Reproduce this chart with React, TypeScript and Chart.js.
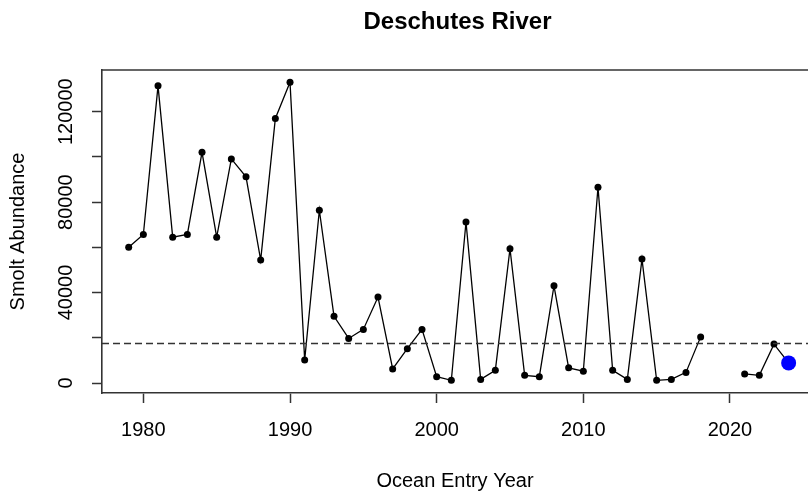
import React, { useEffect, useRef } from "react";
import { Chart, registerables } from "chart.js";

Chart.register(...registerables);

const TITLE = "Deschutes River";
const X_TITLE = "Ocean Entry Year";
const Y_TITLE = "Smolt Abundance";

const YEARS = [
  1979, 1980, 1981, 1982, 1983, 1984, 1985, 1986, 1987, 1988,
  1989, 1990, 1991, 1992, 1993, 1994, 1995, 1996, 1997, 1998,
  1999, 2000, 2001, 2002, 2003, 2004, 2005, 2006, 2007, 2008,
  2009, 2010, 2011, 2012, 2013, 2014, 2015, 2016, 2017, 2018,
  2019, 2020, 2021, 2022, 2023, 2024,
];

const SMOLTS: (number | null)[] = [
  60000, 65700, 131400, 64500, 65700, 102000, 64500, 99100, 91200, 54400,
  117000, 133000, 10200, 76400, 29500, 19700, 23700, 38000, 6200, 15200,
  23700, 2800, 1200, 71200, 1600, 5600, 59400, 3400, 2800, 43000,
  6700, 5200, 86600, 5600, 1600, 54800, 1200, 1600, 4700, 20400,
  null, null, 4000, 3400, 17200, 8900,
];

const HIGHLIGHT_YEAR = 2024;
const REF_LEVEL = 17500;

const X_TICKS = [1980, 1990, 2000, 2010, 2020];
const Y_TICKS = [0, 20000, 40000, 60000, 80000, 100000, 120000];
const Y_TICK_LABELS = ["0", "", "40000", "", "80000", "", "120000"];

const X_MIN = 1977.18;
const X_MAX = 2025.32;
const Y_MIN = -4420;
const Y_MAX = 138420;

const FONT = "'Liberation Sans', Arial, Helvetica, sans-serif";
const AXIS_COLOR = "#333333";

export default function App() {
  const ref = useRef<HTMLCanvasElement | null>(null);

  useEffect(() => {
    document.body.style.margin = "0";
    const canvas = ref.current;
    if (!canvas) return;

    const mainPoints = YEARS.map((yr, i) => ({ x: yr, y: SMOLTS[i] }));
    const radii = YEARS.map((yr) => (yr === HIGHLIGHT_YEAR ? 7.5 : 3.5));
    const colors = YEARS.map((yr) => (yr === HIGHLIGHT_YEAR ? "#0000FF" : "#000000"));

    const framePlugin = {
      id: "frame",
      afterDraw(chart: any) {
        const { ctx, chartArea } = chart;
        ctx.save();
        ctx.strokeStyle = AXIS_COLOR;
        ctx.lineWidth = 1.6;
        ctx.beginPath();
        ctx.moveTo(chartArea.left, chartArea.top);
        ctx.lineTo(chartArea.right + 2, chartArea.top);
        ctx.stroke();
        ctx.fillStyle = "#000000";
        ctx.font = `bold 24px ${FONT}`;
        ctx.textAlign = "center";
        ctx.textBaseline = "alphabetic";
        ctx.fillText(TITLE, 457.5, 28.5);
        ctx.restore();
      },
    };

    const chart = new Chart(canvas, {
      type: "line",
      data: {
        datasets: [
          {
            data: [
              { x: X_MIN, y: REF_LEVEL },
              { x: X_MAX, y: REF_LEVEL },
            ],
            borderColor: AXIS_COLOR,
            borderWidth: 1.5,
            borderDash: [7, 4],
            pointRadius: 0,
            fill: false,
          },
          {
            data: mainPoints as any,
            borderColor: "#000000",
            borderWidth: 1.3,
            pointRadius: radii,
            pointHoverRadius: radii,
            pointBackgroundColor: colors,
            pointBorderColor: colors,
            pointBorderWidth: 0,
            spanGaps: false,
            fill: false,
            tension: 0,
          },
        ],
      },
      options: {
        responsive: false,
        animation: false,
        devicePixelRatio: 1,
        layout: { autoPadding: false, padding: { top: 70, left: 0, right: 0, bottom: 0 } },
        plugins: {
          legend: { display: false },
          title: { display: false },
          tooltip: { enabled: false },
        },
        scales: {
          x: {
            type: "linear",
            min: X_MIN,
            max: X_MAX,
            afterBuildTicks: (scale: any) => {
              scale.ticks = X_TICKS.map((v) => ({ value: v }));
            },
            afterFit: (scale: any) => {
              scale.height = 103;
            },
            ticks: {
              autoSkip: false,
              maxRotation: 0,
              minRotation: 0,
              padding: 15,
              color: "#000000",
              font: { family: FONT, size: 20 },
              callback: (v: any) => String(v),
            },
            grid: {
              drawOnChartArea: false,
              drawTicks: true,
              tickLength: 10,
              tickColor: AXIS_COLOR,
              tickWidth: 1.5,
            },
            border: { display: true, color: AXIS_COLOR, width: 1.6 },
            title: {
              display: true,
              text: X_TITLE,
              color: "#000000",
              font: { family: FONT, size: 20 },
              padding: { top: 0, bottom: 3 },
            },
          },
          y: {
            type: "linear",
            min: Y_MIN,
            max: Y_MAX,
            afterBuildTicks: (scale: any) => {
              scale.ticks = Y_TICKS.map((v) => ({ value: v }));
            },
            afterFit: (scale: any) => {
              scale.width = 102;
            },
            ticks: {
              autoSkip: false,
              minRotation: 90,
              maxRotation: 90,
              crossAlign: "center",
              padding: -7.5,
              color: "#000000",
              font: { family: FONT, size: 20 },
              callback: (v: any) => {
                const i = Y_TICKS.indexOf(Number(v));
                return i >= 0 ? Y_TICK_LABELS[i] : "";
              },
            },
            grid: {
              drawOnChartArea: false,
              drawTicks: true,
              tickLength: 10,
              tickColor: AXIS_COLOR,
              tickWidth: 1.5,
            },
            border: { display: true, color: AXIS_COLOR, width: 1.6 },
            title: {
              display: true,
              text: Y_TITLE,
              color: "#000000",
              font: { family: FONT, size: 20 },
              padding: { top: 6, bottom: 0 },
            },
          },
        },
      },
      plugins: [framePlugin],
    } as any);

    return () => {
      chart.destroy();
    };
  }, []);

  return (
    <div style={{ position: "fixed", left: 0, top: 0, width: 808, height: 496, background: "#ffffff" }}>
      <canvas ref={ref} width={808} height={496} style={{ width: 808, height: 496, display: "block" }} />
    </div>
  );
}
